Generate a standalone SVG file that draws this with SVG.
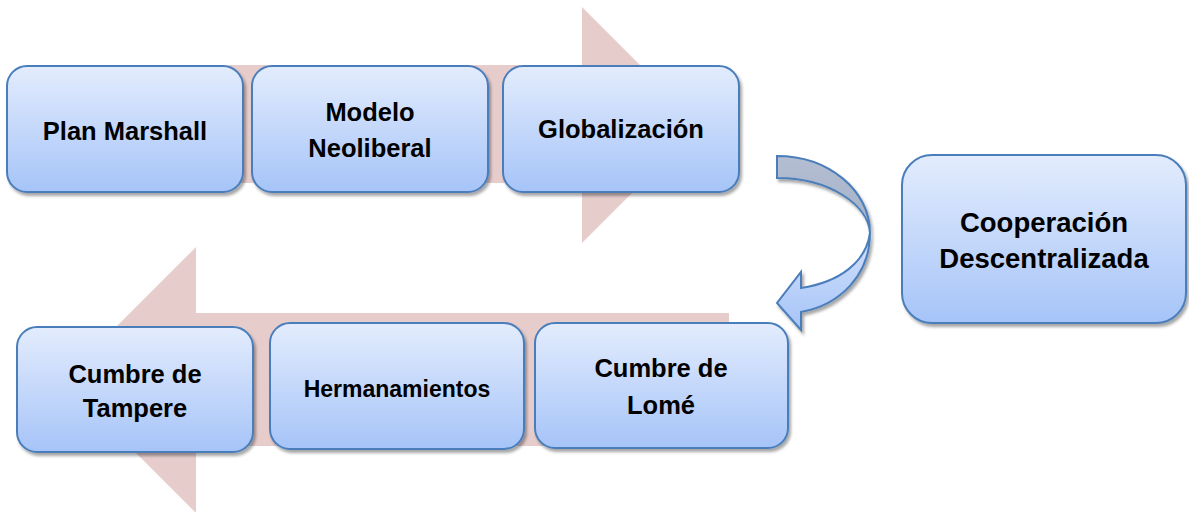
<svg xmlns="http://www.w3.org/2000/svg" width="1189" height="512" viewBox="0 0 1189 512">
<defs>
<linearGradient id="boxGrad" x1="0" y1="0" x2="0" y2="1">
<stop offset="0" stop-color="#E3ECFD"/>
<stop offset="1" stop-color="#A6C4F8"/>
</linearGradient>
<linearGradient id="backGrad" x1="0" y1="0" x2="0" y2="1">
<stop offset="0" stop-color="#B4BED2"/>
<stop offset="1" stop-color="#A3B0C8"/>
</linearGradient>
<linearGradient id="frontGrad" x1="0" y1="0" x2="0" y2="1">
<stop offset="0" stop-color="#D3E1FB"/>
<stop offset="1" stop-color="#A6C4F8"/>
</linearGradient>
<filter id="shadow" x="-10%" y="-10%" width="120%" height="130%">
<feDropShadow dx="2" dy="3" stdDeviation="1.5" flood-color="#000" flood-opacity="0.35"/>
</filter>
</defs>
<style>
.box{fill:url(#boxGrad);stroke:#4A7EBB;stroke-width:2;filter:url(#shadow)}
.lbl{font-family:"Liberation Sans",Arial,sans-serif;font-weight:bold;font-size:25.5px;fill:#000;text-anchor:middle}
.big{font-size:27.5px}
.small{font-size:23px}
.band{fill:#E6CDCC}
.curve{stroke:#4A7EBB;stroke-width:2;stroke-linejoin:miter}
</style>
<g id="background">
<polygon class="band" points="30,65 582,65 582,7 700,125 582,243 582,183 30,183"/>
<polygon class="band" points="729,313 196,313 196,247 63,380 196,513 196,446 729,446"/>
</g>
<g id="connectors">
<g filter="url(#shadow)">
<path class="curve" fill="url(#backGrad)" d="M777,156 C828,156 870,190 870,233 C868,205 830,178 777,178 Z"/>
<path class="curve" fill="url(#frontGrad)" d="M870,233 C870,275 840,305 801,312 L801,330 L777,303 L801,272 L801,288 C840,282 866,262 870,233 Z"/>
</g>
</g>
<g id="node-plan-marshall">
<rect class="box" x="7" y="66" width="236" height="126" rx="20"/>
<text class="lbl" x="125" y="140">Plan Marshall</text>
</g>
<g id="node-modelo-neoliberal">
<rect class="box" x="252" y="66" width="236" height="126" rx="20"/>
<text class="lbl" x="370" y="121">Modelo</text>
<text class="lbl" x="370" y="157">Neoliberal</text>
</g>
<g id="node-globalizacion">
<rect class="box" x="503" y="66" width="236" height="126" rx="20"/>
<text class="lbl" x="621" y="138">Globalización</text>
</g>
<g id="node-cooperacion">
<rect class="box" x="902" y="155" width="284" height="168" rx="30"/>
<text class="lbl big" x="1044" y="232">Cooperación</text>
<text class="lbl big" x="1044" y="268">Descentralizada</text>
</g>
<g id="node-cumbre-tampere">
<rect class="box" x="17" y="327" width="236" height="125" rx="20"/>
<text class="lbl" x="135" y="383">Cumbre de</text>
<text class="lbl" x="135" y="417">Tampere</text>
</g>
<g id="node-hermanamientos">
<rect class="box" x="270" y="323" width="254" height="126" rx="20"/>
<text class="lbl small" x="397" y="397">Hermanamientos</text>
</g>
<g id="node-cumbre-lome">
<rect class="box" x="535" y="323" width="253" height="125" rx="20"/>
<text class="lbl" x="661" y="377">Cumbre de</text>
<text class="lbl" x="661" y="414">Lomé</text>
</g>
</svg>
